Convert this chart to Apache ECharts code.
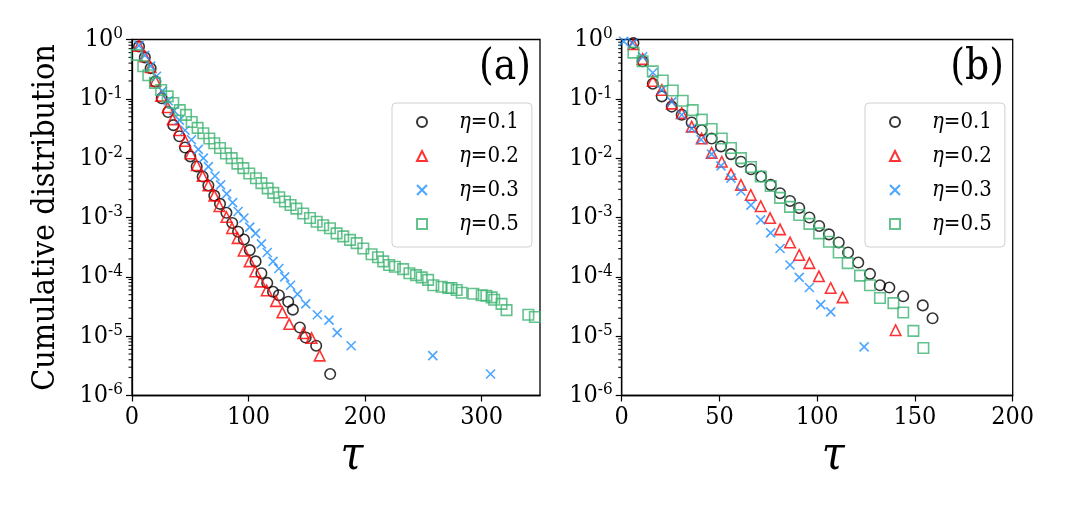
<!DOCTYPE html>
<html>
<head>
<meta charset="utf-8">
<script src="https://cdn.jsdelivr.net/npm/echarts@6/dist/echarts.min.js"></script>
<style>
  html, body { margin: 0; padding: 0; background: #fff; }
  #main { width: 1067px; height: 511px; }
</style>
</head>
<body>
<div id="main"></div>
<script>
// ---- data ----
const seriesNames = ['η=0.1', 'η=0.2', 'η=0.3', 'η=0.5'];
const yTickLabels = ['10^0', '10^-1', '10^-2', '10^-3', '10^-4', '10^-5', '10^-6'];

// panel (a)
const tauA1 = [6, 11, 16, 20, 25.5, 31, 35.5, 40.6, 45.5, 50, 55.5, 60.6, 65.5, 70.6, 75.5, 81, 86, 91, 96, 101, 106, 111, 116, 121, 126, 134, 138, 144, 149, 158, 170];
const cdfA1 = [0.76, 0.50, 0.327, 0.195, 0.102, 0.060, 0.036, 0.0234, 0.0151, 0.0107, 0.00724, 0.0049, 0.00347, 0.00234, 0.0017, 0.0012, 8.1e-4, 5.75e-4, 4.27e-4, 2.82e-4, 1.82e-4, 1.15e-4, 7.9e-5, 5.6e-5, 4.9e-5, 3.8e-5, 2.8e-5, 1.4e-5, 9.5e-6, 6.9e-6, 2.3e-6];

const tauA2 = [6, 11, 16, 20, 25, 30.6, 34.9, 40.6, 45.5, 50.3, 55.5, 60.6, 65.5, 70.6, 75, 81, 85.8, 90.6, 95.7, 100.9, 105.7, 110, 115.5, 123.5, 129, 134.9, 147, 154, 161];
const cdfA2 = [0.78, 0.52, 0.34, 0.20, 0.112, 0.072, 0.045, 0.0295, 0.0195, 0.012, 0.0076, 0.0050, 0.00347, 0.00234, 0.00155, 0.00102, 6.6e-4, 4.5e-4, 2.75e-4, 1.82e-4, 1.23e-4, 8.3e-5, 5.9e-5, 3.9e-5, 2.5e-5, 1.6e-5, 1.12e-5, 9.3e-6, 4.7e-6];

const tauA3 = [6, 11, 16, 21, 26, 31, 36, 40.6, 45.5, 51, 56.9, 61.2, 65.5, 71.2, 76, 81.2, 86.3, 91, 96, 101, 106, 111, 116, 121, 126, 131, 136, 142, 149, 159, 169, 176, 188, 258, 307.6];
const cdfA3 = [0.79, 0.54, 0.355, 0.24, 0.135, 0.093, 0.063, 0.0437, 0.0295, 0.0204, 0.0141, 0.010, 0.0072, 0.0050, 0.00355, 0.0025, 0.00178, 0.00126, 9.8e-4, 6.9e-4, 5.4e-4, 3.6e-4, 2.57e-4, 1.82e-4, 1.38e-4, 1.0e-4, 7.2e-5, 5.1e-5, 3.5e-5, 2.3e-5, 1.86e-5, 1.15e-5, 6.9e-6, 4.7e-6, 2.3e-6];

const tauA5 = [4, 9.7, 14, 19.7, 25, 30.6, 35.4, 41, 46.3, 51.2, 56.3, 61.2, 66.3, 70.6, 75.5, 80.6, 85.5, 90.4, 95.5, 100.6, 106.3, 111, 116.4, 121.2, 126.3, 131.2, 136, 141, 146.9, 152.7, 158.4, 164, 169.8, 175.5, 181.2, 187, 192.7, 198.4, 205.5, 211, 215.5, 220.6, 225.5, 232.6, 238, 243.6, 248.5, 254, 258.5, 265.6, 271.3, 274, 278.5, 282.8, 292.8, 300, 304, 308.5, 310.7, 317, 321.3, 340, 345.6];
const cdfA5 = [0.55, 0.355, 0.25, 0.186, 0.141, 0.11, 0.085, 0.0646, 0.0537, 0.0407, 0.0324, 0.0263, 0.0214, 0.0178, 0.0148, 0.012, 0.010, 0.0081, 0.0068, 0.0055, 0.0046, 0.0038, 0.0031, 0.0026, 0.0022, 0.00186, 0.00162, 0.00141, 0.00117, 9.8e-4, 8.5e-4, 7.4e-4, 6.6e-4, 5.4e-4, 4.8e-4, 4.2e-4, 3.7e-4, 3.0e-4, 2.4e-4, 2.14e-4, 1.82e-4, 1.58e-4, 1.48e-4, 1.35e-4, 1.15e-4, 1.07e-4, 9.8e-5, 8.9e-5, 7.2e-5, 6.8e-5, 6.5e-5, 6.5e-5, 6.0e-5, 5.4e-5, 5.2e-5, 4.9e-5, 4.8e-5, 4.5e-5, 4.1e-5, 3.5e-5, 2.75e-5, 2.3e-5, 2.1e-5];

// panel (b)
const tauB1 = [6, 10.7, 15.9, 20.5, 25.6, 30.7, 35.8, 40.9, 46, 50.8, 55.9, 61, 66.1, 71.3, 76.2, 81, 86.1, 90.8, 96, 101, 106, 111, 115.8, 121, 127, 132.1, 136.9, 144, 154, 159];
const cdfB1 = [0.87, 0.43, 0.18, 0.11, 0.074, 0.054, 0.040, 0.0295, 0.0214, 0.0158, 0.0117, 0.0087, 0.0065, 0.0049, 0.00355, 0.00257, 0.0019, 0.00145, 0.0010, 7.2e-4, 5.2e-4, 3.8e-4, 2.57e-4, 1.74e-4, 1.12e-4, 7.2e-5, 6.6e-5, 4.7e-5, 3.3e-5, 2.0e-5];

const tauB2 = [6, 10.7, 15.9, 20.5, 25.6, 30.7, 35.8, 40.9, 46, 51.2, 55.9, 61, 66, 71.1, 75.9, 81, 86.1, 90.8, 96, 100.9, 106.9, 113, 140.1];
const cdfB2 = [0.83, 0.47, 0.20, 0.141, 0.083, 0.0575, 0.034, 0.0214, 0.0123, 0.0087, 0.0054, 0.00355, 0.0024, 0.00155, 9.8e-4, 6.3e-4, 3.8e-4, 2.34e-4, 1.7e-4, 1.02e-4, 6.5e-5, 4.5e-5, 1.26e-5];

const tauB3 = [1, 5.6, 10.7, 15.9, 20.5, 25.6, 30.7, 35.8, 40.6, 46, 50.8, 55.9, 61, 66.1, 71.1, 76.2, 81, 86.1, 90.8, 96, 101.8, 106.9, 124];
const cdfB3 = [0.93, 0.87, 0.51, 0.275, 0.141, 0.089, 0.054, 0.0316, 0.0204, 0.0117, 0.0074, 0.0046, 0.0028, 0.00162, 9.1e-4, 5.5e-4, 3.0e-4, 1.58e-4, 9.8e-5, 6.6e-5, 3.4e-5, 2.57e-5, 6.6e-6];

const tauB5 = [6, 10.7, 15.9, 21, 26.1, 31.2, 36.3, 41, 46, 51.2, 55.9, 61, 66.1, 71.1, 76.2, 81, 86.1, 90.8, 96, 101, 106, 111, 115.6, 121.9, 127, 132.1, 139, 144, 149.2, 154.3];
const cdfB5 = [0.60, 0.43, 0.29, 0.204, 0.138, 0.093, 0.0646, 0.0447, 0.031, 0.0214, 0.0148, 0.010, 0.0071, 0.0049, 0.0034, 0.00214, 0.00151, 0.0011, 7.8e-4, 5.4e-4, 3.9e-4, 2.57e-4, 1.7e-4, 1.05e-4, 7.2e-5, 4.4e-5, 3.6e-5, 2.5e-5, 1.23e-5, 6.3e-6];

// ---- styling ----
const serif = "'DejaVu Serif Condensed', 'DejaVu Serif', serif";
const colors = ['#000000', '#ff0000', '#1e90ff', '#3cb371'];
const symbols = ['circle', 'triangle', 'path://M0,0L10,10M10,0L0,10', 'rect'];

const zip = (xs, ys) => xs.map((x, i) => [x, ys[i]]);

const minorVals = [];
for (let e = -6; e < 0; e++) {
  for (let k = 2; k <= 9; k++) minorVals.push([0, k * Math.pow(10, e)]);
}

function scatter(name, idx, data, axis) {
  return {
    name: name,
    type: 'scatter',
    xAxisIndex: axis,
    yAxisIndex: axis,
    data: data,
    symbol: symbols[idx],
    symbolSize: idx === 2 ? 9 : 10.5,
    itemStyle: { color: 'transparent', borderColor: colors[idx], borderWidth: 1.6 },
    emphasis: { disabled: true },
    z: 3
  };
}

function minorTicks(axis) {
  return {
    type: 'custom',
    xAxisIndex: axis,
    yAxisIndex: axis,
    data: minorVals,
    silent: true,
    clip: false,
    renderItem: function (params, api) {
      const p = api.coord([0, api.value(1)]);
      return {
        type: 'line',
        shape: { x1: p[0] - 3.5, y1: p[1], x2: p[0], y2: p[1] },
        style: { stroke: '#000', lineWidth: 1 }
      };
    }
  };
}

function xAxis(grid, max, interval) {
  return {
    type: 'value', gridIndex: grid, min: 0, max: max, interval: interval,
    name: 'τ', nameLocation: 'middle', nameGap: 30,
    nameTextStyle: { fontFamily: serif, fontStyle: 'italic', fontSize: 46, color: '#000', padding: [0, 0, 0, 32] },
    axisLine: { lineStyle: { color: '#000', width: 1.3 } },
    axisTick: { length: 6, lineStyle: { color: '#000', width: 1.2 } },
    axisLabel: { fontFamily: serif, fontSize: 25, color: '#000', margin: 9, showMaxLabel: max % interval === 0 },
    splitLine: { show: false }
  };
}

function yAxis(grid, withName) {
  return {
    type: 'log', logBase: 10, gridIndex: grid, min: 1e-6, max: 1, splitNumber: 6,
    name: withName ? 'Cumulative distribution' : '',
    nameLocation: 'middle', nameGap: 70,
    nameTextStyle: { fontFamily: serif, fontSize: 32, color: '#000' },
    axisLine: { show: true, lineStyle: { color: '#000', width: 1.3 } },
    axisTick: { show: true, length: 6, lineStyle: { color: '#000', width: 1.2 } },
    axisLabel: {
      margin: 9,
      formatter: function (v) {
        const e = Math.round(Math.log10(v));
        const t = yTickLabels[-e].split('^');
        return '{b|' + t[0] + '}{s|' + t[1] + '}';
      },
      rich: {
        b: { fontFamily: serif, fontSize: 25, color: '#000', lineHeight: 28 },
        s: { fontFamily: serif, fontSize: 17, color: '#000', verticalAlign: 'top', lineHeight: 18 }
      }
    },
    splitLine: { show: false }
  };
}

function legend(left) {
  return {
    data: seriesNames,
    orient: 'vertical',
    left: left, top: 103,
    itemWidth: 10, itemHeight: 10, itemGap: 12,
    padding: [8, 13, 12, 24],
    backgroundColor: '#fff',
    borderColor: '#d0d0d0', borderWidth: 1, borderRadius: 4,
    selectedMode: false,
    formatter: function (name) {
      return '{i|η}{n|' + name.slice(1) + '}';
    },
    textStyle: {
      rich: {
        i: { fontFamily: serif, fontStyle: 'italic', fontSize: 22, color: '#000', padding: [0, 0, 0, 27], lineHeight: 26 },
        n: { fontFamily: serif, fontSize: 22, color: '#000', lineHeight: 26 }
      }
    }
  };
}

const chart = echarts.init(document.getElementById('main'), null, { renderer: 'canvas' });

chart.setOption({
  backgroundColor: '#fff',
  animation: false,
  grid: [
    { left: 132, top: 39.5, width: 408, height: 356, show: true, borderColor: '#000', borderWidth: 1.3, backgroundColor: 'transparent' },
    { left: 621.7, top: 39.5, width: 391, height: 356, show: true, borderColor: '#000', borderWidth: 1.3, backgroundColor: 'transparent' }
  ],
  xAxis: [xAxis(0, 350, 100), xAxis(1, 200, 50)],
  yAxis: [yAxis(0, true), yAxis(1, false)],
  legend: [legend(392), legend(865)],
  graphic: [
    { type: 'text', right: 1067 - 531, top: 47, style: { text: '(a)', fontFamily: serif, fontSize: 42, fill: '#000' } },
    { type: 'text', right: 1067 - 1004, top: 47, style: { text: '(b)', fontFamily: serif, fontSize: 42, fill: '#000' } }
  ],
  series: [
    scatter(seriesNames[0], 0, zip(tauA1, cdfA1), 0),
    scatter(seriesNames[1], 1, zip(tauA2, cdfA2), 0),
    scatter(seriesNames[2], 2, zip(tauA3, cdfA3), 0),
    scatter(seriesNames[3], 3, zip(tauA5, cdfA5), 0),
    scatter(seriesNames[0], 0, zip(tauB1, cdfB1), 1),
    scatter(seriesNames[1], 1, zip(tauB2, cdfB2), 1),
    scatter(seriesNames[2], 2, zip(tauB3, cdfB3), 1),
    scatter(seriesNames[3], 3, zip(tauB5, cdfB5), 1),
    minorTicks(0),
    minorTicks(1)
  ]
});
</script>
</body>
</html>
